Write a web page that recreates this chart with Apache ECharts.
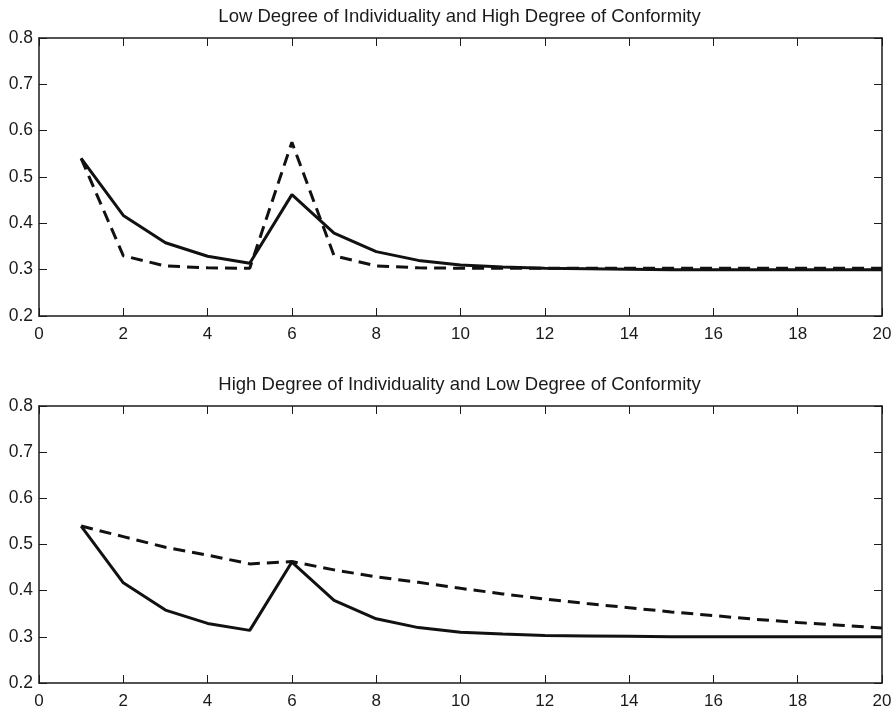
<!DOCTYPE html>
<html><head><meta charset="utf-8">
<script src="https://cdn.jsdelivr.net/npm/echarts@6/dist/echarts.min.js"></script>
<style>html,body{margin:0;padding:0;background:#fff}#c{width:895px;height:712px}</style>
</head><body><div id="c"></div>
<script>
const steps = [1,2,3,4,5,6,7,8,9,10,11,12,13,14,15,16,17,18,19,20];
const topSolid = [0.540,0.417,0.358,0.329,0.314,0.462,0.379,0.339,0.320,0.310,0.306,0.303,0.302,0.301,0.300,0.300,0.300,0.300,0.300,0.300];
const topDashed = [0.540,0.330,0.308,0.304,0.303,0.575,0.330,0.308,0.304,0.303,0.303,0.303,0.303,0.303,0.303,0.303,0.303,0.303,0.303,0.303];
const bottomSolid = [0.540,0.417,0.358,0.329,0.314,0.462,0.379,0.339,0.320,0.310,0.306,0.303,0.302,0.301,0.300,0.300,0.300,0.300,0.300,0.300];
const bottomDashed = [0.540,0.517,0.494,0.477,0.458,0.463,0.445,0.430,0.418,0.405,0.393,0.382,0.372,0.363,0.354,0.346,0.338,0.331,0.325,0.319];
const titles = ['Low Degree of Individuality and High Degree of Conformity','High Degree of Individuality and Low Degree of Conformity'];
const xTicks = {min:0,max:20,interval:2};
const yTicks = {min:0.2,max:0.8,interval:0.1};

const FONT = 'Liberation Sans, Arial, Helvetica, sans-serif';
const ink = '#1a1a1a';
const grids = [
  {left:39, top:38, width:843, height:278},
  {left:39, top:406, width:843, height:277}
];
const xAxes = [], yAxes = [], series = [], titleOpts = [];
grids.forEach((g,i)=>{
  const common = {type:'value', gridIndex:i, splitLine:{show:false},
    axisLine:{show:true,onZero:false,lineStyle:{color:ink,width:1.5}},
    axisTick:{show:true,inside:true,length:8,lineStyle:{color:ink,width:1}}};
  xAxes.push(Object.assign({}, common, {position:'bottom', min:xTicks.min, max:xTicks.max, interval:xTicks.interval,
    axisLabel:{show:true,color:ink,fontSize:17,fontFamily:FONT,margin:10}}));
  xAxes.push(Object.assign({}, common, {position:'top', min:xTicks.min, max:xTicks.max, interval:xTicks.interval, axisLabel:{show:false}}));
  yAxes.push(Object.assign({}, common, {position:'left', min:yTicks.min, max:yTicks.max, interval:yTicks.interval,
    axisLabel:{show:true,color:ink,fontSize:17.5,fontFamily:FONT,margin:6,formatter:v=>v.toFixed(1)}}));
  yAxes.push(Object.assign({}, common, {position:'right', min:yTicks.min, max:yTicks.max, interval:yTicks.interval, axisLabel:{show:false}}));
  titleOpts.push({text:titles[i], left:g.left+g.width/2-1, top:g.top-31, textAlign:'center', padding:0,
    textStyle:{fontSize:18.5,fontWeight:'normal',color:ink,fontFamily:FONT}});
});
function mk(vals){return steps.map((s,k)=>[s,vals[k]]);}
const sets = [[topSolid,topDashed],[bottomSolid,bottomDashed]];
sets.forEach((pair,i)=>{
  series.push({type:'line', xAxisIndex:2*i, yAxisIndex:2*i, data:mk(pair[1]), showSymbol:false, symbol:'none',
    lineStyle:{color:'#111',width:3,type:[12,7]}, z:2});
  series.push({type:'line', xAxisIndex:2*i, yAxisIndex:2*i, data:mk(pair[0]), showSymbol:false, symbol:'none',
    lineStyle:{color:'#111',width:3,type:'solid'}, z:3});
});
const chart = echarts.init(document.getElementById('c'), null, {renderer:'canvas'});
chart.setOption({animation:false, backgroundColor:'#fff', title:titleOpts, grid:grids, xAxis:xAxes, yAxis:yAxes, series:series});
</script></body></html>
